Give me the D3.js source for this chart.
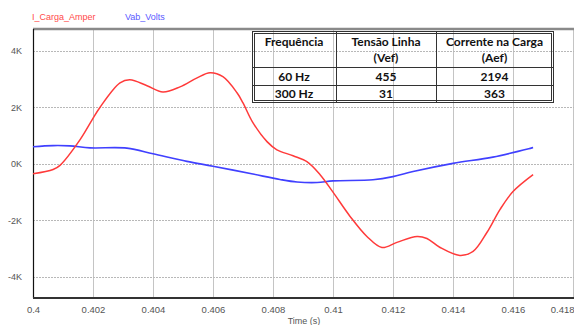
<!DOCTYPE html>
<html>
<head>
<meta charset="utf-8">
<script src="https://cdn.jsdelivr.net/npm/d3@7"></script>
<style>
  body { margin: 0; background: #fff; }
  svg { display: block; }
</style>
</head>
<body>
<div id="chart"></div>
<script>
// I_Carga_Amper (kA) sampled along time (s)
var currentTime = [0.4, 0.40067, 0.4009, 0.40157, 0.40197, 0.40223, 0.4029, 0.40323, 0.4038, 0.40433, 0.4049,
  0.40547, 0.4059, 0.40633, 0.4068, 0.407, 0.40733, 0.4078, 0.40813, 0.40867, 0.40913,
  0.40957, 0.41, 0.41057, 0.41113, 0.41163, 0.41213, 0.4128, 0.41313, 0.41357, 0.41423,
  0.41467, 0.41513, 0.41557, 0.416, 0.41667];
var currentValues = [-0.35, -0.2, -0.05, 0.86, 1.56, 2.0, 2.87, 2.98, 2.77, 2.55, 2.73,
  3.05, 3.23, 3.09, 2.52, 2.16, 1.46, 0.79, 0.5, 0.29, 0.08,
  -0.38, -1.0, -1.86, -2.57, -2.96, -2.78, -2.57, -2.64, -2.96, -3.24,
  -3.1, -2.43, -1.61, -0.98, -0.38];

// Vab_Volts (k)
var voltTime = [0.4, 0.40067, 0.40123, 0.4019, 0.40313, 0.404, 0.40513, 0.406, 0.40733, 0.40823,
  0.4088, 0.40947, 0.41, 0.41133, 0.412, 0.41267, 0.414, 0.41533, 0.41667];
var voltValues = [0.61, 0.65, 0.64, 0.57, 0.56, 0.36, 0.09, -0.08, -0.36, -0.55,
  -0.64, -0.66, -0.6, -0.56, -0.45, -0.27, 0.02, 0.24, 0.58];

var xTicks = [0.4, 0.402, 0.404, 0.406, 0.408, 0.41, 0.412, 0.414, 0.416, 0.418];
var yTicks = [-4, -2, 0, 2, 4];

var tableHeader = [["Frequência", ""], ["Tensão Linha", "(Vef)"], ["Corrente na Carga", "(Aef)"]];
var tableRows = [["60 Hz", "455", "2194"], ["300 Hz", "31", "363"]];

var width = 574, height = 325;
var plotLeft = 33, plotRight = 573, plotTop = 29, plotBottom = 298;

var svg = d3.select('#chart').append('svg')
  .attr('width', width)
  .attr('height', height);

var x = d3.scaleLinear().domain([0.4, 0.418]).range([plotLeft, plotRight]);
var y = d3.scaleLinear().domain([-4.75, 4.78]).range([plotBottom, plotTop]);

// vertical grid (solid)
svg.append('g')
  .selectAll('line')
  .data(xTicks.slice(1))
  .enter().append('line')
  .attr('x1', function(d) { return Math.round(x(d)) + 0.5; })
  .attr('x2', function(d) { return Math.round(x(d)) + 0.5; })
  .attr('y1', plotTop).attr('y2', plotBottom)
  .attr('stroke', '#c4c4c4').attr('stroke-width', 1);

// horizontal grid (dotted)
svg.append('g')
  .selectAll('line')
  .data(yTicks)
  .enter().append('line')
  .attr('x1', plotLeft).attr('x2', width)
  .attr('y1', function(d) { return Math.round(y(d)) + 0.5; })
  .attr('y2', function(d) { return Math.round(y(d)) + 0.5; })
  .attr('stroke', '#b8b8b8').attr('stroke-width', 1)
  .attr('stroke-dasharray', '2,1');

// frame
svg.append('line').attr('x1', plotLeft).attr('x2', width).attr('y1', plotTop).attr('y2', plotTop)
  .attr('stroke', '#8a8a8a').attr('stroke-width', 2.5);
svg.append('line').attr('x1', plotLeft + 0.5).attr('x2', plotLeft + 0.5).attr('y1', plotTop).attr('y2', plotBottom)
  .attr('stroke', '#111').attr('stroke-width', 1.2);
svg.append('line').attr('x1', plotLeft).attr('x2', width).attr('y1', plotBottom).attr('y2', plotBottom)
  .attr('stroke', '#333').attr('stroke-width', 2);

// y axis labels
var yAxis = svg.append('g')
  .attr('transform', 'translate(' + (plotLeft - 11) + ',0)')
  .call(d3.axisLeft(y).tickValues(yTicks).tickSize(0).tickPadding(0)
    .tickFormat(function(d) { return d + 'K'; }));
yAxis.select('.domain').remove();
yAxis.selectAll('text')
  .attr('fill', '#555').attr('font-family', 'Liberation Sans, Arial, sans-serif')
  .attr('font-size', 9);

// x axis labels
var xAxis = svg.append('g')
  .attr('transform', 'translate(0,' + (plotBottom + 8) + ')')
  .call(d3.axisBottom(x).tickValues(xTicks).tickSize(0).tickPadding(0)
    .tickFormat(function(d) { return d3.format('')(+d.toFixed(3)); }));
xAxis.select('.domain').remove();
xAxis.selectAll('text')
  .attr('fill', '#555').attr('font-family', 'Liberation Sans, Arial, sans-serif')
  .attr('font-size', 9.5)
  .attr('text-anchor', function(d) { return d === 0.418 ? 'end' : 'middle'; })
  .attr('dx', function(d) { return d === 0.418 ? 1 : 0; });

svg.append('text')
  .attr('x', 304).attr('y', 324)
  .attr('text-anchor', 'middle')
  .attr('fill', '#555').attr('font-family', 'Liberation Sans, Arial, sans-serif')
  .attr('font-size', 9)
  .text('Time (s)');

// curves
var currentData = currentTime.map(function(t, i) { return [t, currentValues[i]]; });
var voltData = voltTime.map(function(t, i) { return [t, voltValues[i]]; });

var line = d3.line()
  .x(function(d) { return x(d[0]); })
  .y(function(d) { return y(d[1]); })
  .curve(d3.curveCatmullRom.alpha(0.5));

svg.append('path').datum(voltData)
  .attr('d', line)
  .attr('fill', 'none').attr('stroke', '#4040ff').attr('stroke-width', 1.6);

svg.append('path').datum(currentData)
  .attr('d', line)
  .attr('fill', 'none').attr('stroke', '#ff3a3a').attr('stroke-width', 1.5);

// legend
svg.append('text').attr('x', 32).attr('y', 20)
  .attr('fill', '#ff4a4a').attr('font-family', 'Liberation Sans, Arial, sans-serif')
  .attr('font-size', 9).text('I_Carga_Amper');
svg.append('text').attr('x', 125).attr('y', 20)
  .attr('fill', '#5a5aff').attr('font-family', 'Liberation Sans, Arial, sans-serif')
  .attr('font-size', 9).text('Vab_Volts');

// table
var colEdges = [252, 336, 436, 553];
var rowEdges = [31, 67, 85, 102];
var tbl = svg.append('g');

tbl.selectAll('line.v')
  .data(colEdges.slice(1, 3))
  .enter().append('line')
  .attr('x1', function(d) { return d + 0.5; }).attr('x2', function(d) { return d + 0.5; })
  .attr('y1', rowEdges[0]).attr('y2', rowEdges[3])
  .attr('stroke', '#333').attr('stroke-width', 1);
tbl.selectAll('line.h')
  .data(rowEdges.slice(1, 3))
  .enter().append('line')
  .attr('x1', colEdges[0]).attr('x2', colEdges[3])
  .attr('y1', function(d) { return d + 0.5; }).attr('y2', function(d) { return d + 0.5; })
  .attr('stroke', '#333').attr('stroke-width', 1);
// double outer border
[0, 2].forEach(function(o) {
  tbl.append('rect')
    .attr('x', colEdges[0] + 0.5 + o).attr('y', rowEdges[0] + 0.5 + o)
    .attr('width', colEdges[3] - colEdges[0] - 2 * o)
    .attr('height', rowEdges[3] - rowEdges[0] - 2 * o)
    .attr('fill', 'none').attr('stroke', '#333').attr('stroke-width', 1);
});

var tFont = 'Lato, Carlito, Calibri, sans-serif';
tableHeader.forEach(function(h, c) {
  var cx = (colEdges[c] + colEdges[c + 1]) / 2;
  h.forEach(function(t, r) {
    if (!t) return;
    tbl.append('text').attr('x', cx).attr('y', 46 + r * 16)
      .attr('text-anchor', 'middle').attr('font-family', tFont)
      .attr('font-weight', 'bold').attr('font-size', 12).attr('fill', '#111')
      .text(t);
  });
});
tableRows.forEach(function(row, r) {
  row.forEach(function(t, c) {
    var cx = (colEdges[c] + colEdges[c + 1]) / 2;
    tbl.append('text').attr('x', cx).attr('y', 81 + r * 17)
      .attr('text-anchor', 'middle').attr('font-family', tFont)
      .attr('font-weight', 'bold').attr('font-size', 12).attr('fill', '#111')
      .text(t);
  });
});
</script>
</body>
</html>
